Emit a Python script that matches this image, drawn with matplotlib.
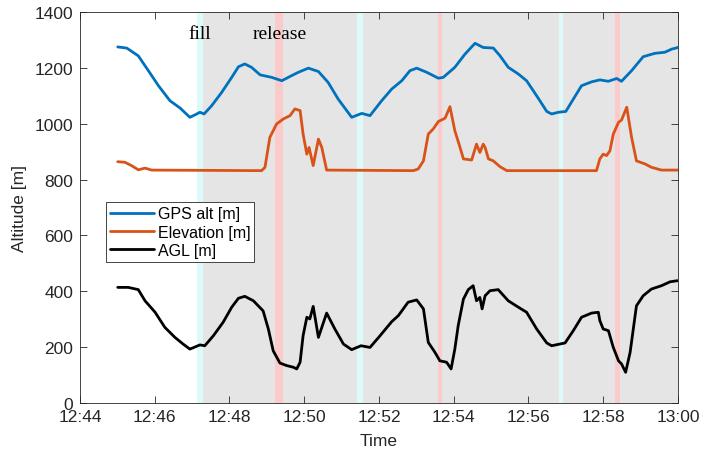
import numpy as np
import matplotlib
matplotlib.use("Agg")
import matplotlib.pyplot as plt
from matplotlib.ticker import FuncFormatter


# minutes after 12:44
gps_t = [1.01, 1.25, 1.56, 1.83, 2.10, 2.41, 2.68, 2.94, 3.08, 3.21, 3.32, 3.52, 3.79,
         4.06, 4.24, 4.41, 4.59, 4.82, 5.13, 5.40, 5.66, 5.84, 6.11, 6.38, 6.64, 6.91,
         7.27, 7.54, 7.76, 8.07, 8.34, 8.61, 8.83, 9.01, 9.28, 9.59, 9.72, 10.03, 10.30,
         10.57, 10.79, 11.06, 11.24, 11.46, 11.73, 11.95, 12.22, 12.49, 12.62, 12.80,
         13.00, 13.20, 13.42, 13.69, 13.91, 14.14, 14.36, 14.49, 14.76, 15.07, 15.38,
         15.65, 15.83, 16.0]
gps_alt = [1275, 1271, 1243, 1190, 1136, 1082, 1056, 1023, 1032, 1041, 1035, 1064, 1112,
           1166, 1204, 1214, 1202, 1175, 1166, 1154, 1172, 1184, 1199, 1187, 1148, 1088,
           1023, 1037, 1029, 1082, 1124, 1154, 1190, 1199, 1184, 1163, 1166, 1202, 1249,
           1288, 1273, 1271, 1243, 1202, 1178, 1154, 1100, 1044, 1035, 1041,
           1044, 1088, 1136, 1150, 1157, 1152, 1162, 1152, 1190, 1240, 1252,
           1256, 1267, 1273]

elev_t = [1.01, 1.20, 1.38, 1.56, 1.74, 1.92, 4.86, 4.95, 5.08, 5.26, 5.44, 5.62, 5.75,
          5.89, 5.97, 6.07, 6.13, 6.24, 6.38, 6.47, 6.60, 8.92, 9.05, 9.19, 9.32, 9.45,
          9.59, 9.77, 9.90, 10.03, 10.17, 10.26, 10.48, 10.61, 10.70, 10.79, 10.84, 10.93,
          11.06, 11.24, 11.42, 13.82, 13.91, 14.00, 14.09, 14.18, 14.27, 14.41, 14.49,
          14.63, 14.76, 14.89, 15.12, 15.29, 15.56, 16.0]
elevation = [864, 862, 850, 835, 841, 834, 832, 844, 951, 999, 1017, 1029, 1053,
             1047, 963, 891, 915, 850, 945, 915, 834, 832, 838, 867, 963, 981,
             1008, 1020, 1061, 975, 915, 874, 870, 927, 897, 927, 915, 874,
             867, 846, 832, 832, 874, 891, 886, 903, 963, 1005, 1013,
             1059, 951, 867, 856, 844, 834, 834]

agl_t = [1.01, 1.29, 1.56, 1.74, 2.01, 2.27, 2.54, 2.76, 2.94, 3.21, 3.34, 3.57, 3.83,
         4.06, 4.24, 4.41, 4.64, 4.90, 5.04, 5.17, 5.35, 5.53, 5.71, 5.80, 5.89, 5.97,
         6.07, 6.15, 6.24, 6.38, 6.60, 6.82, 7.05, 7.27, 7.52, 7.76, 8.03, 8.34, 8.52,
         8.78, 9.01, 9.19, 9.32, 9.50, 9.63, 9.81, 9.93, 10.03, 10.12, 10.26, 10.39,
         10.52, 10.61, 10.70, 10.76, 10.84, 10.97, 11.19, 11.46, 11.73, 11.95, 12.22,
         12.49, 12.62, 12.98, 13.20, 13.42, 13.69, 13.87, 13.91, 14.00, 14.14, 14.27,
         14.41, 14.49, 14.60, 14.72, 14.89, 15.07, 15.29, 15.56, 15.79, 15.99]
agl = [414, 414, 406, 366, 325, 271, 235, 211, 193, 208, 205, 241, 289,
       343, 375, 382, 366, 330, 265, 187, 143, 134, 128, 122, 146, 241,
       307, 301, 346, 235, 322, 265, 211, 191, 205, 199, 241, 291, 313,
       361, 369, 337, 217, 181, 151, 146, 122, 193, 277, 372, 406,
       420, 366, 378, 337, 384, 402, 406, 366, 343, 325, 265,
       215, 205, 215, 259, 307, 322, 325, 295, 265, 259, 199,
       151, 140, 110, 181, 348, 384, 408, 420, 434, 438]

fill_bands = [(3.12, 3.28), (7.40, 7.56), (12.81, 12.92)]
release_bands = [(5.23, 5.42), (9.58, 9.70), (14.31, 14.46)]

tick_font = "Liberation Sans"
fs = 12.5

fig = plt.figure(figsize=(7.01, 4.52), dpi=100)
ax = fig.add_axes([0.1141, 0.1062, 0.853, 0.865])

ax.axvspan(fill_bands[0][1], 16, color="#e5e5e5", lw=0, zorder=0)
for a, b in fill_bands:
    ax.axvspan(a, b, color="#dcfafa", lw=0, zorder=0.5)
for a, b in release_bands:
    ax.axvspan(a, b, color="#fbcaca", lw=0, zorder=0.5)

style = dict(lw=2.0, solid_joinstyle="round", solid_capstyle="round")
ax.plot(gps_t, gps_alt, color="#0072bd", label="GPS alt [m]", **style)
ax.plot(elev_t, elevation, color="#d95319", label="Elevation [m]", **style)
ax.plot(agl_t, agl, color="black", label="AGL [m]", **style)

ax.text(3.2, 1322, "fill", family="Liberation Serif", fontsize=14,
        ha="center", va="center")
ax.text(5.35, 1322, "release", family="Liberation Serif", fontsize=14,
        ha="center", va="center")

ax.set_xlim(0, 16)
ax.set_ylim(0, 1400)
ax.set_xticks(np.arange(0, 17, 2))
ax.set_yticks(np.arange(0, 1401, 200))
ax.xaxis.set_major_formatter(FuncFormatter(
    lambda v, p: "%d:%02d" % (12 + (44 + int(v)) // 60, (44 + int(v)) % 60)))
ax.tick_params(direction="in", top=True, right=True, length=5, width=0.6,
               color="#262626")
ax.tick_params(axis="x", pad=4)
ax.tick_params(axis="y", pad=5)
for lab in ax.get_xticklabels() + ax.get_yticklabels():
    lab.set_family(tick_font)
    lab.set_fontsize(fs)
    lab.set_color("#262626")
for s in ax.spines.values():
    s.set_color("#262626")
    s.set_linewidth(0.6)

ax.set_xlabel("Time", family=tick_font, fontsize=fs, color="#262626", labelpad=7)
ax.set_ylabel("Altitude [m]", family=tick_font, fontsize=fs, color="#262626", labelpad=5)

leg = ax.legend(loc="upper left", bbox_to_anchor=(0.043, 0.513), borderaxespad=0,
                fancybox=False, framealpha=1, edgecolor="#262626",
                prop={"family": tick_font, "size": 11.5}, handlelength=2.8,
                handletextpad=0.2, labelspacing=0.2, borderpad=0.25)
leg.get_frame().set_linewidth(0.6)

fig.savefig("out.png", dpi=100)
